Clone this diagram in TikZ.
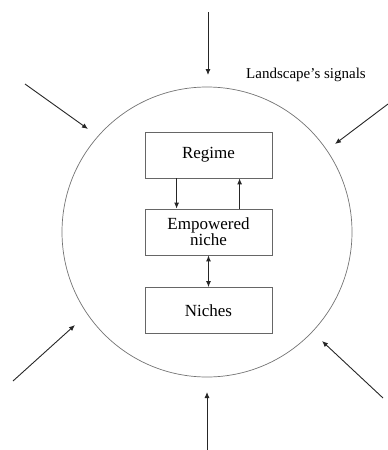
\documentclass[tikz,border=0pt]{standalone}
\usepackage{fontspec}
\setmainfont{Liberation Serif}
\usetikzlibrary{arrows.meta}

\tikzset{
	levelbox/.style = {draw=black!60, line width=0.8pt, minimum width=127pt,
		minimum height=46pt, inner sep=0pt, align=center,
		font=\fontsize{17}{18}\selectfont},
	signal/.style = {-{Latex[length=6pt,width=5pt]}, line width=0.9pt, black!85}
}

\begin{document}
\begin{tikzpicture}[x=1pt,y=-1pt]
		\useasboundingbox (0,0) rectangle (388,450);
		
		\draw [black!55, line width=0.7pt] (207,232) circle (145);
		\node [font=\fontsize{15}{16}\selectfont] (label) at (306,75) {Landscape's signals};
		
		\node [levelbox] (regime) at (208.5,155) {Regime};
		\node [levelbox] (empowered) at (208.5,232) {Empowered\\[-2pt]niche};
		\node [levelbox] (niches) at (208.5,310.5) {Niches};
		
		\draw [signal] ([xshift=32pt]regime.south west) -- ([xshift=32pt]empowered.north west);
		\draw [signal] ([xshift=95pt]empowered.north west) -- ([xshift=95pt]regime.south west);
		\draw [signal, {Latex[length=6pt,width=5pt]}-{Latex[length=6pt,width=5pt]}] (empowered.south) -- (niches.north);
		
		% landscape pressure from outside
		\foreach \ax/\ay/\bx/\by in {208/12/208/75, 25/84/88/129, 388/104/335/144,
			13/381/75/325, 383/398/322/341, 207/450/207/392}
			\draw [signal] (\ax,\ay) -- (\bx,\by);
	\end{tikzpicture}
\end{document}
